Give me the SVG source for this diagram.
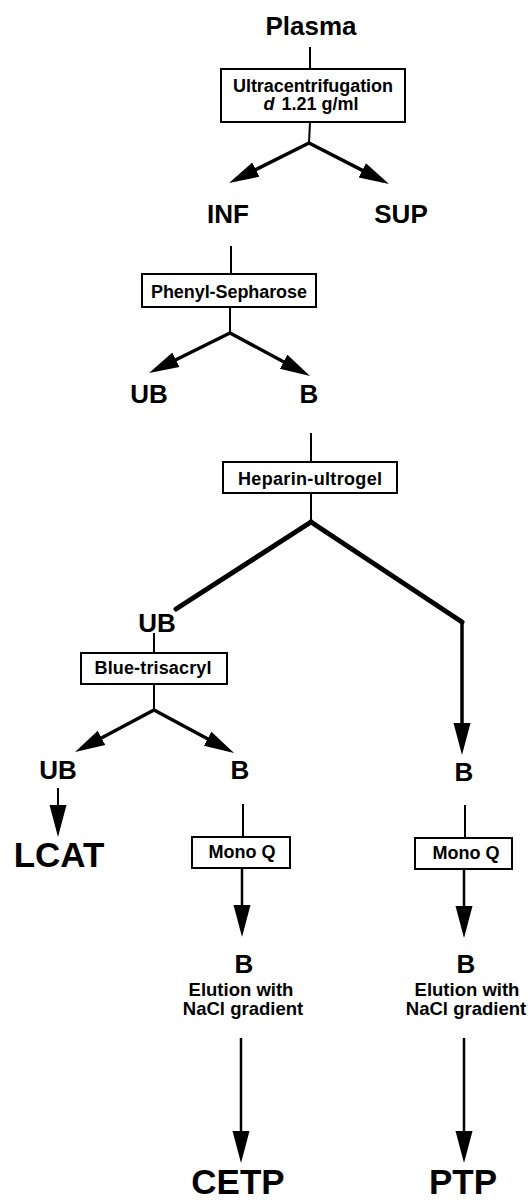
<svg xmlns="http://www.w3.org/2000/svg" width="529" height="1203" viewBox="0 0 529 1203">
<style>
text{font-family:"Liberation Sans",Arial,Helvetica,sans-serif;font-weight:bold;fill:#000;text-anchor:middle}
.lbl{font-size:26px}
.big{font-size:35px}
.box{font-size:18px}
.note{font-size:18.5px}
rect{fill:#fff;stroke:#000;stroke-width:2}
.c{fill:none;stroke:#000;stroke-width:2}
.s{fill:none;stroke:#000;stroke-width:3.5;stroke-linecap:round}
.t{fill:none;stroke:#000;stroke-width:5;stroke-linecap:round}
.v{fill:none;stroke:#000;stroke-width:2.5}
</style>
<defs>
<marker id="ah" viewBox="0 -10 32 20" markerUnits="userSpaceOnUse" markerWidth="32" markerHeight="20" refX="22" refY="0" orient="auto"><path d="M0,-8 L30,0 L0,8 z" fill="#000"/></marker>
<marker id="av" viewBox="0 -10 34 20" markerUnits="userSpaceOnUse" markerWidth="34" markerHeight="20" refX="24" refY="0" orient="auto"><path d="M0,-8.5 L32,0 L0,8.5 z" fill="#000"/></marker>
</defs>
<g id="connectors">
<path class="c" d="M310,47 L310,69"/>
<path class="c" d="M310,122 L309,143"/>
<path class="s" d="M309,143 L236.2,179.4" marker-end="url(#ah)"/>
<path class="s" d="M309,143 L381.9,180.4" marker-end="url(#ah)"/>
<path class="c" d="M231,246 L231,274"/>
<path class="c" d="M230,307 L230,333"/>
<path class="s" d="M230,333 L156.2,369.5" marker-end="url(#ah)"/>
<path class="s" d="M230,333 L303,372.2" marker-end="url(#ah)"/>
<path class="c" d="M311,433 L311,462"/>
<path class="c" d="M311,493 L311,522"/>
<path class="t" d="M311,522 L176,609"/>
<path class="t" d="M311,522 L462,622"/>
<path class="s" d="M462,622 L462,747" marker-end="url(#av)"/>
<path class="c" d="M154,633 L154,653"/>
<path class="c" d="M154,684 L154,710"/>
<path class="s" d="M154,710 L82.1,748.2" marker-end="url(#ah)"/>
<path class="s" d="M154,710 L227,749.2" marker-end="url(#ah)"/>
<path class="c" d="M58,788 L58,829" marker-end="url(#av)"/>
<path class="c" d="M243,804 L243,837"/>
<path class="v" d="M242,868 L242,929" marker-end="url(#av)"/>
<path class="v" d="M241,1038 L241,1155" marker-end="url(#av)"/>
<path class="c" d="M465,805 L465,838"/>
<path class="v" d="M464,869 L464,930" marker-end="url(#av)"/>
<path class="v" d="M464,1038 L464,1155" marker-end="url(#av)"/>
</g>
<g id="plasma"><text class="lbl" x="311" y="35">Plasma</text></g>
<g id="ultracentrifugation">
<rect x="221" y="69" width="184" height="53"/>
<text class="box" x="313" y="92" textLength="160">Ultracentrifugation</text>
<text class="box" x="311" y="110"><tspan font-style="italic">d</tspan><tspan dx="7">1.21 g/ml</tspan></text>
</g>
<g id="inf"><text class="lbl" x="228" y="223">INF</text></g>
<g id="sup"><text class="lbl" x="401" y="223">SUP</text></g>
<g id="phenyl-sepharose">
<rect x="142" y="274" width="174" height="33"/>
<text class="box" x="229" y="298" textLength="156">Phenyl-Sepharose</text>
</g>
<g id="ub1"><text class="lbl" x="149" y="403">UB</text></g>
<g id="b1"><text class="lbl" x="309" y="403">B</text></g>
<g id="heparin-ultrogel">
<rect x="223" y="462" width="174" height="31"/>
<text class="box" x="310" y="485" textLength="144">Heparin-ultrogel</text>
</g>
<g id="ub2"><text class="lbl" x="157" y="632">UB</text></g>
<g id="blue-trisacryl">
<rect x="81" y="653" width="146" height="31"/>
<text class="box" x="153" y="674" textLength="117">Blue-trisacryl</text>
</g>
<g id="ub3"><text class="lbl" x="58" y="779">UB</text></g>
<g id="b2"><text class="lbl" x="240" y="779">B</text></g>
<g id="b3"><text class="lbl" x="464" y="781">B</text></g>
<g id="lcat"><text class="big" x="59" y="867">LCAT</text></g>
<g id="monoq1">
<rect x="192" y="837" width="98" height="31"/>
<text class="box" x="242" y="858">Mono Q</text>
</g>
<g id="monoq2">
<rect x="415" y="838" width="97" height="31"/>
<text class="box" x="466" y="859">Mono Q</text>
</g>
<g id="b4">
<text class="lbl" x="244" y="973">B</text>
<text class="note" x="241" y="996">Elution with</text>
<text class="note" x="243" y="1015">NaCl gradient</text>
</g>
<g id="b5">
<text class="lbl" x="466" y="973">B</text>
<text class="note" x="467" y="996">Elution with</text>
<text class="note" x="466" y="1015">NaCl gradient</text>
</g>
<g id="cetp"><text class="big" x="238" y="1194" font-size="34">CETP</text></g>
<g id="ptp"><text class="big" x="463" y="1194" font-size="34">PTP</text></g>
</svg>
